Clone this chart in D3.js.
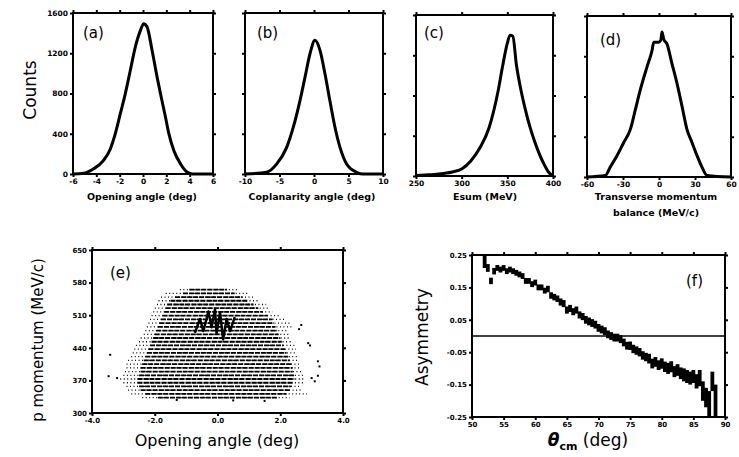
<!DOCTYPE html>
<html>
<head>
<meta charset="utf-8">
<script src="https://cdn.jsdelivr.net/npm/d3@7/dist/d3.min.js"></script>
<style>
body { margin: 0; background: #fff; }
svg text { font-family: "DejaVu Sans", "Liberation Sans", sans-serif; fill: #000; }
</style>
</head>
<body>
<div id="chart"></div>
<script>
// (a) opening angle distribution
var openAngle = [-6, -5.1, -4.25, -3.4, -2.8, -2.38, -1.95, -1.52, -1.09, -0.66, -0.22, 0.06, 0.35, 0.78, 1.21, 1.5, 1.93, 2.22, 2.65, 3.22, 3.8, 4.23, 6];
var openCounts = [0, 7, 50, 133, 249, 398, 597, 797, 1029, 1261, 1427, 1494, 1461, 1228, 963, 797, 564, 398, 232, 100, 17, 0, 0];

// (b) coplanarity angle
var coplanAngle = [-10, -6.86, -5.4, -3.96, -3.0, -2.03, -1.3, -0.58, 0.14, 0.87, 1.59, 2.3, 3.04, 3.77, 4.73, 6.2, 7.1, 10];
var coplanCounts = [0, 17, 100, 265, 465, 730, 963, 1195, 1328, 1228, 996, 730, 465, 265, 100, 17, 0, 0];

// (c) energy sum
var esum = [250, 260, 270, 280, 290, 300, 310, 320, 330, 340, 345, 350, 353, 356, 360, 365, 370, 375, 380, 385, 390, 395, 400];
var esumCounts = [5, 10, 15, 25, 40, 70, 150, 280, 480, 850, 1100, 1320, 1400, 1390, 1100, 850, 650, 480, 340, 220, 120, 40, 0];

// (d) transverse momentum balance
var ptBal = [-60, -44.7, -40.6, -35, -29.4, -23.9, -19.7, -15.6, -10, -5.8, -4.4, -0.3, 1.5, 2.5, 3.9, 6.7, 10.8, 15, 19.2, 23.3, 27.5, 31.7, 35.8, 40, 60];
var ptCounts = [0, 15, 100, 212, 343, 473, 670, 865, 1094, 1257, 1340, 1340, 1360, 1440, 1370, 1320, 1127, 930, 702, 473, 343, 212, 98, 16, 0];

var histYTicks = [0, 400, 800, 1200, 1600];
var histYLabels = ["0", "400", "800", "1200", "1600"];
var openTicks = [-6, -4, -2, 0, 2, 4, 6];
var openLabels = ["-6", "-4", "-2", "0", "2", "4", "6"];
var coplanTicks = [-10, -5, 0, 5, 10];
var coplanLabels = ["-10", "-5", "0", "5", "10"];
var esumTicks = [250, 300, 350, 400];
var esumLabels = ["250", "300", "350", "400"];
var ptTicks = [-60, -30, 0, 30, 60];
var ptLabels = ["-60", "-30", "0", "30", "60"];

// (e) p momentum vs opening angle: horizontal stripes of events
var rowMom = [333, 341, 349, 357, 365, 373, 381, 389, 397, 405, 413, 421, 429, 437, 445, 453, 461, 469, 477, 485, 493, 501, 509, 517, 525, 533, 541, 549, 557, 565];
var rowOuterMin = [-2.4, -2.75, -2.85, -2.9, -3.0, -3.1, -3.0, -2.95, -2.9, -2.9, -2.85, -2.75, -2.7, -2.65, -2.6, -2.5, -2.45, -2.35, -2.3, -2.25, -2.2, -2.15, -2.1, -2.05, -2.0, -1.93, -1.88, -1.8, -1.65, -1.2];
var rowCoreMin = [-1.9, -2.3, -2.45, -2.5, -2.55, -2.55, -2.5, -2.45, -2.45, -2.4, -2.35, -2.3, -2.25, -2.2, -2.15, -2.1, -2.05, -2.0, -1.95, -1.9, -1.85, -1.8, -1.75, -1.7, -1.65, -1.6, -1.5, -1.35, -1.1, -0.9];
var rowCoreMax = [1.9, 2.2, 2.3, 2.35, 2.4, 2.45, 2.45, 2.4, 2.4, 2.35, 2.3, 2.25, 2.2, 2.15, 2.1, 2.05, 2.0, 1.95, 1.9, 1.85, 1.8, 1.75, 1.6, 1.45, 1.3, 1.15, 0.95, 0.8, 0.55, 0.3];
var rowOuterMax = [2.3, 2.85, 2.65, 2.65, 2.75, 2.75, 2.75, 2.7, 2.65, 2.65, 2.6, 2.55, 2.5, 2.5, 2.45, 2.4, 2.35, 2.3, 2.25, 2.4, 2.3, 2.2, 1.95, 1.75, 1.65, 1.55, 1.35, 1.15, 0.95, 0.65];
var strayAngle = [-3.42, -3.47, -3.2, 2.67, 2.6, 2.89, 2.95, 3.2, 3.25, 3.2, 3.1, 3.0, -1.3, 1.5, 0.5];
var strayMom = [425, 379, 375, 489, 480, 450, 445, 411, 400, 380, 368, 375, 328, 326, 327];
var markAngle = [-0.72, -0.56, -0.45, -0.29, -0.19, -0.08, -0.03, 0.08, 0.18, 0.29, 0.4, 0.55];
var markMom = [472, 502, 476, 518, 484, 522, 470, 516, 458, 502, 476, 506];
var eXTicks = [-4, -2, 0, 2, 4];
var eXLabels = ["-4.0", "-2.0", "0.0", "2.0", "4.0"];
var eYTicks = [300, 370, 440, 510, 580, 650];
var eYLabels = ["300", "370", "440", "510", "580", "650"];

// (f) asymmetry vs theta_cm
var theta = [52, 52.5, 53, 53.5, 54, 54.5, 55, 55.5, 56, 56.5, 57, 57.5, 58, 58.5, 59, 59.5, 60, 60.5, 61, 61.5, 62, 62.5, 63, 63.5, 64, 64.5, 65, 65.5, 66, 66.5, 67, 67.5, 68, 68.5, 69, 69.5, 70, 70.5, 71, 71.5, 72, 72.5, 73, 73.5, 74, 74.5, 75, 75.5, 76, 76.5, 77, 77.5, 78, 78.5, 79, 79.5, 80, 80.5, 81, 81.5, 82, 82.5, 83, 83.5, 84, 84.5, 85, 85.5, 86, 86.5, 87, 87.5, 88, 88.5];
var asym = [0.23, 0.21, 0.17, 0.2, 0.21, 0.205, 0.21, 0.2, 0.205, 0.2, 0.195, 0.19, 0.185, 0.17, 0.17, 0.16, 0.165, 0.15, 0.15, 0.14, 0.145, 0.125, 0.12, 0.115, 0.105, 0.1, 0.08, 0.085, 0.075, 0.08, 0.065, 0.06, 0.05, 0.045, 0.04, 0.035, 0.025, 0.02, 0.015, 0.005, 0.0, -0.005, -0.005, -0.01, -0.02, -0.03, -0.03, -0.04, -0.045, -0.05, -0.06, -0.065, -0.07, -0.085, -0.08, -0.09, -0.085, -0.095, -0.1, -0.095, -0.11, -0.105, -0.115, -0.12, -0.125, -0.13, -0.125, -0.14, -0.13, -0.17, -0.19, -0.21, -0.14, -0.2];
var asymErr = [0.02, 0.012, 0.01, 0.01, 0.009, 0.009, 0.009, 0.009, 0.009, 0.009, 0.009, 0.009, 0.009, 0.009, 0.009, 0.009, 0.009, 0.009, 0.009, 0.009, 0.01, 0.01, 0.01, 0.01, 0.011, 0.011, 0.011, 0.011, 0.011, 0.011, 0.011, 0.011, 0.012, 0.012, 0.012, 0.012, 0.012, 0.012, 0.012, 0.012, 0.012, 0.012, 0.012, 0.012, 0.012, 0.012, 0.013, 0.013, 0.013, 0.013, 0.013, 0.013, 0.015, 0.015, 0.015, 0.015, 0.016, 0.016, 0.017, 0.017, 0.017, 0.018, 0.018, 0.02, 0.02, 0.02, 0.02, 0.022, 0.025, 0.03, 0.03, 0.04, 0.03, 0.05];
var fXTicks = [50, 55, 60, 65, 70, 75, 80, 85, 90];
var fXLabels = ["50", "55", "60", "65", "70", "75", "80", "85", "90"];
var fYTicks = [-0.25, -0.15, -0.05, 0.05, 0.15, 0.25];
var fYLabels = ["-0.25", "-0.15", "-0.05", "0.05", "0.15", "0.25"];

var svg = d3.select("#chart").append("svg")
    .attr("width", 739)
    .attr("height", 457);

function drawFrame(x, y, xTicks, xLabels, yTicks, yLabels, fs) {
    var g = svg.append("g").attr("class", "frame");
    var x0 = x.range()[0], x1 = x.range()[1];
    var y0 = y.range()[0], y1 = y.range()[1];

    g.append("g").attr("transform", "translate(0," + y0 + ")")
        .call(d3.axisBottom(x).tickValues(xTicks).tickSize(3).tickPadding(2)
            .tickFormat(function (d, i) { return xLabels[i]; }));
    g.append("g").attr("transform", "translate(0," + y1 + ")")
        .call(d3.axisTop(x).tickValues(xTicks).tickSize(3).tickFormat(""));
    g.append("g").attr("transform", "translate(" + x0 + ",0)")
        .call(d3.axisLeft(y).tickValues(yTicks).tickSize(3).tickPadding(2)
            .tickFormat(function (d, i) { return yLabels ? yLabels[i] : ""; }));
    g.append("g").attr("transform", "translate(" + x1 + ",0)")
        .call(d3.axisRight(y).tickValues(yTicks).tickSize(3).tickFormat(""));

    g.selectAll(".domain").remove();
    g.selectAll(".tick line").attr("stroke", "#000").attr("stroke-width", 2);
    g.selectAll(".tick text")
        .style("font-size", fs + "px")
        .style("font-weight", "bold")
        .style("font-family", "'DejaVu Sans', sans-serif");

    g.append("rect")
        .attr("x", x0).attr("y", y1)
        .attr("width", x1 - x0).attr("height", y0 - y1)
        .attr("fill", "none").attr("stroke", "#000").attr("stroke-width", 2);
}

function histPanel(xs, ys, x, y, xTicks, xLabels, showY, label, lx, ly) {
    drawFrame(x, y, xTicks, xLabels, histYTicks, showY ? histYLabels : null, 7.5);

    var line = d3.line()
        .curve(d3.curveMonotoneX)
        .x(function (d, i) { return x(xs[i]); })
        .y(function (d) { return y(d); });

    svg.append("path")
        .datum(ys)
        .attr("d", line)
        .attr("fill", "none")
        .attr("stroke", "#000")
        .attr("stroke-width", 3)
        .attr("stroke-linejoin", "round");

    svg.append("text")
        .attr("x", lx).attr("y", ly)
        .style("font-size", "15px")
        .text(label);
}

var xa = d3.scaleLinear().domain([-6, 6]).range([73, 213]);
var ya = d3.scaleLinear().domain([0, 1600]).range([174, 13]);
histPanel(openAngle, openCounts, xa, ya, openTicks, openLabels, true, "(a)", 83, 38);

var xb = d3.scaleLinear().domain([-10, 10]).range([245, 383]);
histPanel(coplanAngle, coplanCounts, xb, ya, coplanTicks, coplanLabels, false, "(b)", 257, 38);

var xc = d3.scaleLinear().domain([250, 400]).range([416, 553]);
var yc = d3.scaleLinear().domain([0, 1600]).range([176, 15]);
histPanel(esum, esumCounts, xc, yc, esumTicks, esumLabels, false, "(c)", 424, 38);

var xd = d3.scaleLinear().domain([-60, 60]).range([587, 731]);
var yd = d3.scaleLinear().domain([0, 1600]).range([177, 16]);
histPanel(ptBal, ptCounts, xd, yd, ptTicks, ptLabels, false, "(d)", 600, 45);

// top row axis titles
svg.append("text").attr("x", 30).attr("y", 90)
    .attr("transform", "rotate(-90,30,90)")
    .attr("text-anchor", "middle").attr("dominant-baseline", "central")
    .style("font-size", "17px").text("Counts");

var titleStyle = function (sel) {
    sel.attr("text-anchor", "middle").style("font-size", "9.5px").style("font-weight", "bold");
};
svg.append("text").attr("x", 142).attr("y", 200).call(titleStyle).text("Opening angle (deg)");
svg.append("text").attr("x", 312).attr("y", 200).call(titleStyle).text("Coplanarity angle (deg)");
svg.append("text").attr("x", 485).attr("y", 200).call(titleStyle).text("Esum (MeV)");
svg.append("text").attr("x", 656).attr("y", 200).call(titleStyle).text("Transverse momentum");
svg.append("text").attr("x", 656).attr("y", 216).call(titleStyle).text("balance (MeV/c)");

// (e) scatter
var xe = d3.scaleLinear().domain([-4, 4]).range([92, 343]);
var ye = d3.scaleLinear().domain([300, 650]).range([413, 250]);
drawFrame(xe, ye, eXTicks, eXLabels, eYTicks, eYLabels, 7);

var rows = svg.append("g");
rowMom.forEach(function (p, i) {
    // sparse fringe
    rows.append("line")
        .attr("x1", xe(rowOuterMin[i])).attr("x2", xe(rowOuterMax[i]))
        .attr("y1", ye(p)).attr("y2", ye(p))
        .attr("stroke", "#000").attr("stroke-width", 1.3)
        .attr("stroke-dasharray", "1,2.5");
    // dense core
    rows.append("line")
        .attr("x1", xe(rowCoreMin[i])).attr("x2", xe(rowCoreMax[i]))
        .attr("y1", ye(p)).attr("y2", ye(p))
        .attr("stroke", "#000").attr("stroke-width", 1.8)
        .attr("stroke-dasharray", "5,1");
});

svg.append("g").selectAll("rect")
    .data(strayAngle)
    .enter()
    .append("rect")
    .attr("x", function (d) { return xe(d) - 1; })
    .attr("y", function (d, i) { return ye(strayMom[i]) - 1; })
    .attr("width", 2).attr("height", 2)
    .attr("fill", "#000");

var markLine = d3.line()
    .x(function (d, i) { return xe(markAngle[i]); })
    .y(function (d) { return ye(d); });
svg.append("path")
    .datum(markMom)
    .attr("d", markLine)
    .attr("fill", "none").attr("stroke", "#000")
    .attr("stroke-width", 2.5).attr("stroke-linejoin", "round");

svg.append("text").attr("x", 110).attr("y", 278).style("font-size", "15px").text("(e)");
svg.append("text").attr("x", 38).attr("y", 340)
    .attr("transform", "rotate(-90,38,340)")
    .attr("text-anchor", "middle").attr("dominant-baseline", "central")
    .style("font-size", "15px").text("p momentum (MeV/c)");
svg.append("text").attr("x", 217).attr("y", 446)
    .attr("text-anchor", "middle")
    .style("font-size", "16px").text("Opening angle (deg)");

// (f) asymmetry
var xf = d3.scaleLinear().domain([50, 90]).range([472, 725]);
var yf = d3.scaleLinear().domain([-0.25, 0.25]).range([417, 255]);
drawFrame(xf, yf, fXTicks, fXLabels, fYTicks, fYLabels, 7);

svg.append("line")
    .attr("x1", xf(50)).attr("x2", xf(90))
    .attr("y1", yf(0)).attr("y2", yf(0))
    .attr("stroke", "#000").attr("stroke-width", 1.6);

svg.append("g").selectAll("rect")
    .data(asym)
    .enter()
    .append("rect")
    .attr("x", function (d, i) { return xf(theta[i]) - 1.9; })
    .attr("y", function (d, i) { return yf(d + asymErr[i]); })
    .attr("width", 3.8)
    .attr("height", function (d, i) { return yf(d - asymErr[i]) - yf(d + asymErr[i]); })
    .attr("fill", "#000");

svg.append("text").attr("x", 686).attr("y", 286).style("font-size", "15px").text("(f)");
svg.append("text").attr("x", 422).attr("y", 337)
    .attr("transform", "rotate(-90,422,337)")
    .attr("text-anchor", "middle").attr("dominant-baseline", "central")
    .style("font-size", "17px").text("Asymmetry");

var ft = svg.append("text").attr("x", 588).attr("y", 446)
    .attr("text-anchor", "middle").style("font-size", "17px");
ft.append("tspan").style("font-style", "italic").style("font-weight", "bold").text("θ");
ft.append("tspan").attr("dy", 4).style("font-size", "11px").style("font-weight", "bold").text("cm");
ft.append("tspan").attr("dy", -4).text(" (deg)");
</script>
</body>
</html>
